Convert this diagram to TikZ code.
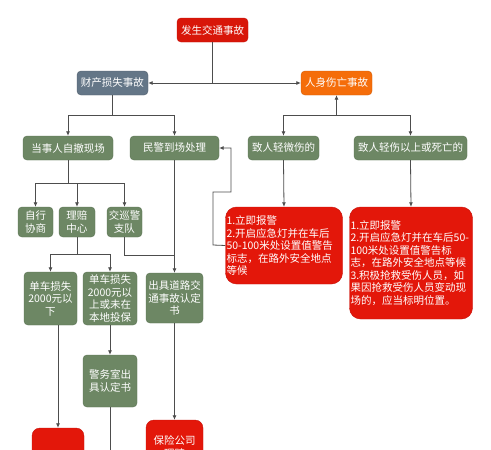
\documentclass[tikz,border=0pt]{standalone}
\usepackage{fontspec}
\newfontfamily\cjk{Noto Sans CJK SC}
\usetikzlibrary{arrows.meta}
\definecolor{gbox}{HTML}{6D8764}
\definecolor{gline}{HTML}{5A7352}
\definecolor{rbox}{HTML}{E3170A}
\definecolor{rline}{HTML}{C8120A}
\definecolor{sbox}{HTML}{647687}
\definecolor{obox}{HTML}{F56D0A}
\definecolor{conn}{HTML}{4D4D4D}
\tikzset{
  base/.style={rounded corners=4pt, text=white, inner sep=1pt, align=center,
    font=\cjk\fontsize{10.5}{12.5}\selectfont},
  gnode/.style={base, fill=gbox, draw=gline, line width=0.4pt},
  rnode/.style={base, fill=rbox, draw=rline, line width=0.4pt},
  rbig/.style={rnode, rounded corners=11pt, align=left, text width=#1},
  arr/.style={draw=conn, line width=0.8pt, -{Latex[length=4.5pt,width=4pt]}},
  ln/.style={draw=conn, line width=0.8pt},
}
\begin{document}
\begin{tikzpicture}[x=1pt,y=-1pt]
\useasboundingbox (0,0) rectangle (491,450);
\fill[white] (0,0) rectangle (491,450);

\node[rnode, fill=rbox!95!black, minimum width=71pt, minimum height=24pt] (top) at (212.5,30) {发生交通事故};
\node[base, fill=sbox, draw=sbox!80!black, minimum width=71pt, minimum height=24pt] (prop) at (112.5,83) {财产损失事故};
\node[base, fill=obox, draw=obox!85!black, minimum width=71pt, minimum height=24pt] (pers) at (336.5,83) {人身伤亡事故};

\node[gnode, minimum width=90pt, minimum height=24pt] (a1) at (68,148) {当事人自撤现场};
\node[gnode, minimum width=89pt, minimum height=24pt] (a2) at (174.5,148) {民警到场处理};
\node[gnode, minimum width=71pt, minimum height=24pt] (a3) at (283.5,148) {致人轻微伤的};
\node[gnode, minimum width=113pt, minimum height=24pt] (a4) at (410.5,148) {致人轻伤以上或死亡的};

\node[gnode, minimum width=35pt, minimum height=30pt] (b1) at (35.5,222) {自行\\协商};
\node[gnode, minimum width=36pt, minimum height=30pt] (b2) at (77,222) {理赔\\中心};
\node[gnode, minimum width=35pt, minimum height=30pt] (b3) at (124.5,222) {交巡警\\支队};

\node[gnode, minimum width=53pt, minimum height=53pt] (c1) at (50.5,298.5) {单车损失\\2000元以\\下};
\node[gnode, minimum width=54pt, minimum height=53pt] (c2) at (110,298.5) {单车损失\\2000元以\\上或未在\\本地投保};
\node[gnode, minimum width=57pt, minimum height=50pt] (c3) at (174.5,298) {出具道路交\\通事故认定\\书};

\node[gnode, minimum width=54pt, minimum height=52pt] (d2) at (110,381) {警务室出\\具认定书};
\node[rnode, rounded corners=8pt, minimum width=52pt, minimum height=54pt] (d1) at (58,455) {};
\node[rnode, rounded corners=8pt, minimum width=57pt, minimum height=54pt] (d3) at (174.5,447) {保险公司\\理赔};

\node[rbig=115pt, minimum height=77pt] (e1) at (284,245.5) {1.立即报警\\2.开启应急灯并在车后\\50-100米处设置值警告\\标志，在路外安全地点\\等候};
\node[rbig=121pt, minimum height=112pt] (e2) at (411,263) {1.立即报警\\2.开启应急灯并在车后50-\\100米处设置值警告标\\志，在路外安全地点等候\\3.积极抢救受伤人员，如\\果因抢救受伤人员变动现\\场的，应当标明位置。};

% top level
\draw[arr] (top.south) |- (prop.east);
\draw[arr] (top.south) |- (pers.west);

% property branch
\coordinate (jp) at (112.5,115);
\draw[ln] (prop.south) -- (jp);
\draw[arr] (jp) -| (a1.north);
\draw[arr] (jp) -| (a2.north);

% personal branch
\coordinate (jq) at (336.5,115);
\draw[arr] (jq) -- (pers.south);
\draw[arr] (jq) -| (a3.north);
\draw[arr] (jq) -| (a4.north);

% self-handling
\coordinate (ja) at (68,183);
\draw[ln] (a1.south) -- (ja);
\draw[arr] (ja) -| (b1.north);
\draw[arr] (ja) -| (b2.north);
\draw[arr] (ja) -| (b3.north);

\coordinate (jb) at (77,254);
\draw[ln] (b2.south) -- (jb);
\draw[arr] (jb) -| (c1.north);
\draw[arr] (jb) -| (c2.north);

\coordinate (jc) at (174.5,255);
\draw[ln] (b3.south) |- (jc);
\draw[arr] (a2.south) -- (c3.north);

\draw[arr] (c1.south -| d1.north) -- (d1.north);
\draw[arr] (c2.south) -- (d2.north);
\coordinate (dend) at (110,470);
\draw[ln] (d2.south) -- (dend);
\draw[arr] (c3.south) -- (d3.north);

\draw[arr] (a3.south) -- (e1.north);
\draw[arr] (a4.south) -- (e2.north);

\coordinate (k1) at (213,245);
\coordinate (k2) at (213,192);
\coordinate (k3) at (231,192);
\coordinate (k4) at (231,148);
\draw[arr] (e1.west) -- (k1) -- (k2) -- (k3) -- (k4) -- (a2.east);
\end{tikzpicture}
\end{document}
